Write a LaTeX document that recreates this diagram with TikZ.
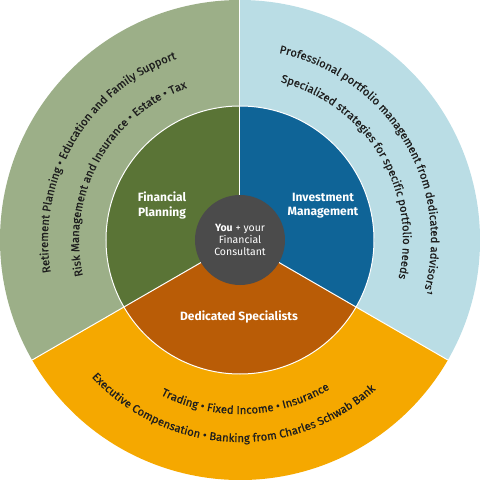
\documentclass[tikz,border=0pt]{standalone}
\usepackage{fontspec}
\setmainfont{Fira Sans}
\newfontfamily\arcfont{Fira Sans}[FakeBold=0.5]
\usetikzlibrary{decorations.text}
\definecolor{outgreen}{HTML}{9CAF88}
\definecolor{ingreen}{HTML}{5A7436}
\definecolor{outblue}{HTML}{BADDE5}
\definecolor{inblue}{HTML}{0F6497}
\definecolor{outorange}{HTML}{F5A800}
\definecolor{inorange}{HTML}{B95C06}
\definecolor{centergray}{HTML}{4B4B4B}
\definecolor{arctext}{HTML}{1E1E1E}

\begin{document}
\begin{tikzpicture}[x=1pt, y=1pt,
  divider/.style={draw=white, line width=1pt},
  seglabel/.style={text=white, align=center, font=\bfseries\fontsize{12}{14.5}\selectfont},
  curved/.style={decorate, decoration={text along path, text align=center,
    text color=arctext, text={|\arcfont\fontsize{11.3}{13}\selectfont|#1}}}
]
\useasboundingbox (-240,-240) rectangle (240,240);

\fill[outgreen] (0,0) -- (90:240) arc[start angle=90, end angle=210, radius=240] -- cycle;
\fill[outblue] (0,0) -- (-30:240) arc[start angle=-30, end angle=90, radius=240] -- cycle;
\fill[outorange] (0,0) -- (210:240) arc[start angle=210, end angle=330, radius=240] -- cycle;
\fill[ingreen] (0,0) -- (90:134) arc[start angle=90, end angle=210, radius=134] -- cycle;
\fill[inblue] (0,0) -- (-30:134) arc[start angle=-30, end angle=90, radius=134] -- cycle;
\fill[inorange] (0,0) -- (210:134) arc[start angle=210, end angle=330, radius=134] -- cycle;

\draw[divider] (0,0) circle[radius=134];
\draw[divider] (0,0) -- (90:240);
\draw[divider] (0,0) -- (210:240);
\draw[divider] (0,0) -- (330:240);

\node[circle, fill=centergray, minimum size=90, inner sep=0, text=white, align=center,
  font=\fontsize{10.5}{12}\selectfont] (you) at (0,0) {\textbf{You} + your\\Financial\\Consultant};

\node[seglabel] (planning) at (-78,34.5) {Financial\\Planning};
\node[seglabel] (investment) at (83,34.5) {Investment\\Management};
\node[seglabel] (specialists) at (-1,-77) {Dedicated Specialists};

\path[curved={Retirement Planning • Education and Family Support}]
  (209.5:192) arc[start angle=209.5, end angle=89.5, radius=192];
\path[curved={Risk Management and Insurance • Estate • Tax}]
  (211:161) arc[start angle=211, end angle=91, radius=161];
\path[curved={Professional portfolio management from dedicated advisors¹}]
  (92:191) arc[start angle=92, end angle=-30, radius=191];
\path[curved={Specialized strategies for specific portfolio needs}]
  (90:163) arc[start angle=90, end angle=-28, radius=163];
\path[curved={Trading • Fixed Income • Insurance}]
  (212:174) arc[start angle=212, end angle=332, radius=174];
\path[curved={Executive Compensation • Banking from Charles Schwab Bank}]
  (207:202) arc[start angle=207, end angle=328, radius=202];
\end{tikzpicture}
\end{document}
